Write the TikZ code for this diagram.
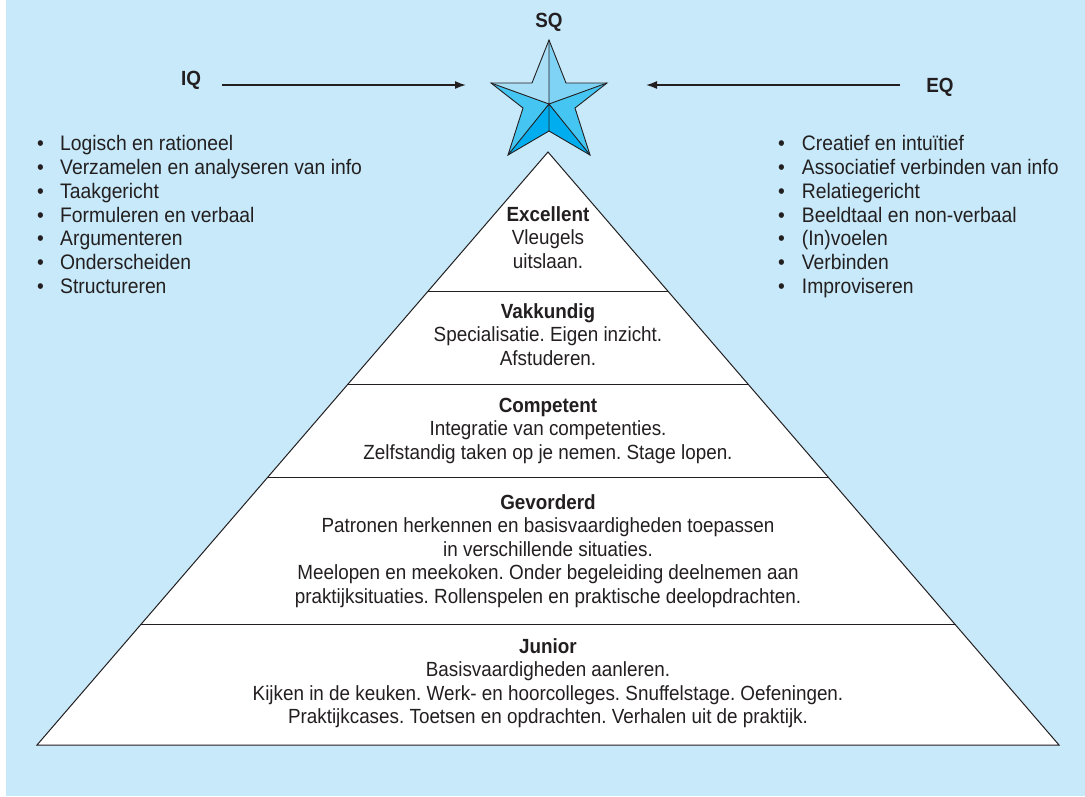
\documentclass[tikz,border=0pt]{standalone}
\usepackage{fontspec}
\setmainfont{Liberation Sans}[FakeStretch=0.92]
\usetikzlibrary{arrows.meta,calc}
\definecolor{bgblue}{HTML}{C7E9F9}
\definecolor{ink}{HTML}{231F20}
\definecolor{starA}{HTML}{A9DEF7}
\definecolor{starB}{HTML}{7FD3F5}
\definecolor{starC}{HTML}{45C6F2}
\definecolor{starD}{HTML}{00AEEF}
\frenchspacing
\begin{document}
\begin{tikzpicture}[x=1pt,y=-1pt,
  ptext/.style={anchor=base,inner sep=0pt,text=ink,font=\fontsize{20.5}{23.5}\selectfont},
  ltext/.style={anchor=base west,inner sep=0pt,text=ink,font=\fontsize{21}{23.5}\selectfont},
  qlabel/.style={anchor=base,inner sep=0pt,text=ink,font=\fontsize{20.5}{23.5}\selectfont\bfseries},
  arr/.style={draw=ink,line width=1.6pt,-{Latex[length=11pt,width=8pt]}},
  pline/.style={draw=ink,line width=1pt},
  sline/.style={draw=ink,line width=0.9pt,line join=miter}
]
\useasboundingbox (0,0) rectangle (1085,796);
\fill[bgblue] (6,0) rectangle (1085,796);

% ---------- pyramid ----------
\coordinate (pA) at (548,152);
\coordinate (pBL) at (37,745);
\coordinate (pBR) at (1059,745);
\filldraw[fill=white,pline] (pA) -- (pBR) -- (pBL) -- cycle;
\foreach \t/\n in {0.2344/d1,0.3929/d2,0.5481/d3,0.7976/d4}{
  \coordinate (\n l) at ($(pA)!\t!(pBL)$);
  \coordinate (\n r) at ($(pA)!\t!(pBR)$);
  \draw[pline] (\n l) -- (\n r);
}

% ---------- pyramid texts ----------
\node[ptext] (e1) at (548,221) {\textbf{Excellent}};
\node[ptext] (e2) at (548,244.5) {Vleugels};
\node[ptext] (e3) at (548,268) {uitslaan.};

\node[ptext] (v1) at (548,318) {\textbf{Vakkundig}};
\node[ptext] (v2) at (548,341.5) {Specialisatie. Eigen inzicht.};
\node[ptext] (v3) at (548,365) {Afstuderen.};

\node[ptext] (c1) at (548,412) {\textbf{Competent}};
\node[ptext] (c2) at (548,435.5) {Integratie van competenties.};
\node[ptext] (c3) at (548,459) {Zelfstandig taken op je nemen. Stage lopen.};

\node[ptext] (g1) at (548,509.3) {\textbf{Gevorderd}};
\node[ptext] (g2) at (548,532.8) {Patronen herkennen en basisvaardigheden toepassen};
\node[ptext] (g3) at (548,556.3) {in verschillende situaties.};
\node[ptext] (g4) at (548,579.8) {Meelopen en meekoken. Onder begeleiding deelnemen aan};
\node[ptext] (g5) at (548,603.3) {praktijksituaties. Rollenspelen en praktische deelopdrachten.};

\node[ptext] (j1) at (548,653.3) {\textbf{Junior}};
\node[ptext] (j2) at (548,676.8) {Basisvaardigheden aanleren.};
\node[ptext] (j3) at (548,700.3) {Kijken in de keuken. Werk- en hoorcolleges. Snuffelstage. Oefeningen.};
\node[ptext] (j4) at (548,723.8) {Praktijkcases. Toetsen en opdrachten. Verhalen uit de praktijk.};

% ---------- star ----------
\coordinate (sc) at (549,104);
\coordinate (sT) at (549,40);
\coordinate (sL) at (491,83);
\coordinate (sR) at (607,83);
\coordinate (sBL) at (508,155);
\coordinate (sBR) at (590,155);
\coordinate (siTL) at (532,83);
\coordinate (siTR) at (566,83);
\coordinate (siL) at (523,108);
\coordinate (siR) at (575,108);
\coordinate (siB) at (549,131);
\fill[starA] (sc) -- (sT) -- (siTL) -- (sL) -- cycle;
\fill[starB] (sc) -- (sT) -- (siTR) -- (sR) -- cycle;
\fill[starC] (sc) -- (sL) -- (siL) -- (sBL) -- cycle;
\fill[starC] (sc) -- (sR) -- (siR) -- (sBR) -- cycle;
\fill[starD] (sc) -- (sBL) -- (siB) -- (sBR) -- cycle;
\draw[sline] (sT) -- (siTR) -- (sR) -- (siR) -- (sBR) -- (siB) -- (sBL) -- (siL) -- (sL) -- (siTL) -- cycle;
\draw[sline] (sc) -- (sT) (sc) -- (sL) (sc) -- (sR) (sc) -- (sBL) (sc) -- (sBR) (sc) -- (siB);

% ---------- labels & arrows ----------
\node[qlabel] (sq) at (549,27) {SQ};
\node[qlabel] (iq) at (191,85) {IQ};
\node[qlabel] (eq) at (940,92) {EQ};
\coordinate (iqs) at (222,85);
\coordinate (iqe) at (466,85);
\coordinate (eqs) at (900,85);
\coordinate (eqe) at (646,85);
\draw[arr] (iqs) -- (iqe);
\draw[arr] (eqs) -- (eqe);

% ---------- lists ----------
\node[ltext] (l1) at (37,150.7) {\makebox[23pt][l]{•}Logisch en rationeel};
\node[ltext] (l2) at (37,174.5) {\makebox[23pt][l]{•}Verzamelen en analyseren van info};
\node[ltext] (l3) at (37,198.2) {\makebox[23pt][l]{•}Taakgericht};
\node[ltext] (l4) at (37,222) {\makebox[23pt][l]{•}Formuleren en verbaal};
\node[ltext] (l5) at (37,245.8) {\makebox[23pt][l]{•}Argumenteren};
\node[ltext] (l6) at (37,269.5) {\makebox[23pt][l]{•}Onderscheiden};
\node[ltext] (l7) at (37,293.3) {\makebox[23pt][l]{•}Structureren};

\node[ltext] (r1) at (778,150.7) {\makebox[23.7pt][l]{•}Creatief en intuïtief};
\node[ltext] (r2) at (778,174.5) {\makebox[23.7pt][l]{•}Associatief verbinden van info};
\node[ltext] (r3) at (778,198.2) {\makebox[23.7pt][l]{•}Relatiegericht};
\node[ltext] (r4) at (778,222) {\makebox[23.7pt][l]{•}Beeldtaal en non-verbaal};
\node[ltext] (r5) at (778,245.8) {\makebox[23.7pt][l]{•}(In)voelen};
\node[ltext] (r6) at (778,269.5) {\makebox[23.7pt][l]{•}Verbinden};
\node[ltext] (r7) at (778,293.3) {\makebox[23.7pt][l]{•}Improviseren};
\end{tikzpicture}
\end{document}
